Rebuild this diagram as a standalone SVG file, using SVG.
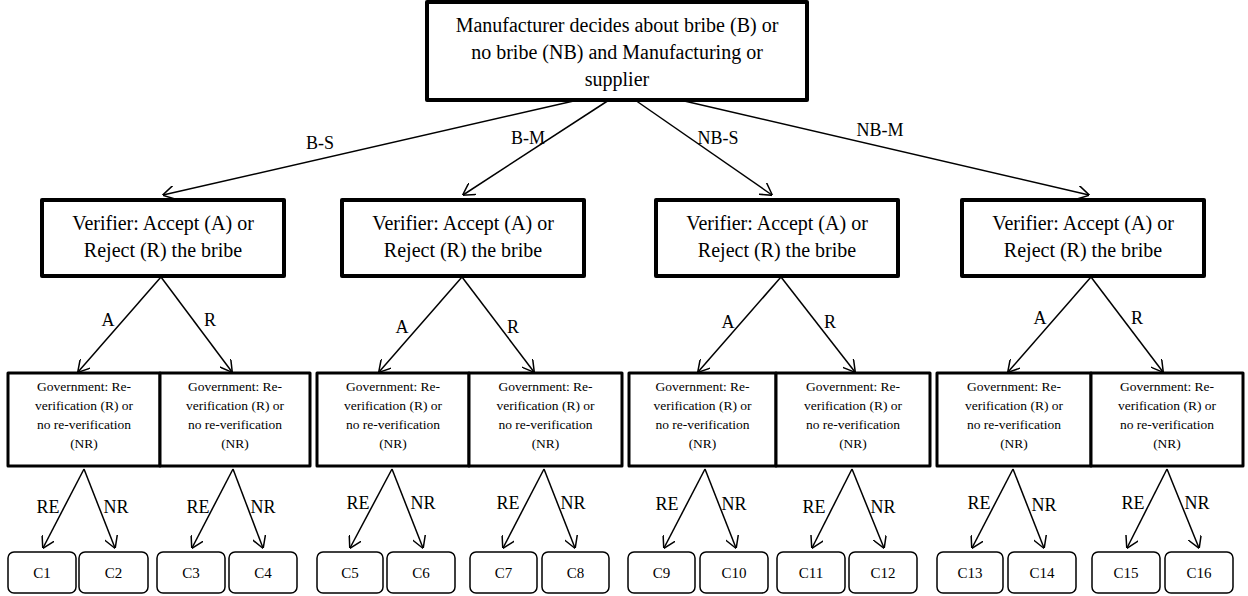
<svg xmlns="http://www.w3.org/2000/svg" width="1248" height="596" viewBox="0 0 1248 596" font-family="'Liberation Serif', 'DejaVu Serif', serif">
  <defs>
    <marker id="arrow" viewBox="0 0 12 14" refX="11.5" refY="7" markerWidth="12" markerHeight="14" markerUnits="userSpaceOnUse" orient="auto">
      <path d="M0,0 L12,7 L0,14" fill="none" stroke="#000" stroke-width="1.5"/>
    </marker>
    <style>
      text { font-family: 'Liberation Serif', 'DejaVu Serif', serif; fill: #000; text-anchor: middle; }
      .root { fill: #fff; stroke: #000; stroke-width: 4; stroke-linejoin: round; }
      .verifier { fill: #fff; stroke: #000; stroke-width: 4; stroke-linejoin: round; }
      .gov { fill: #fff; stroke: #000; stroke-width: 3; stroke-linejoin: round; }
      .leaf { fill: #fff; stroke: #000; stroke-width: 1.5; }
      .edge { stroke: #000; stroke-width: 1.5; fill: none; marker-end: url(#arrow); }
      .t20 { font-size: 20px; }
      .t18 { font-size: 18px; }
      .t13 { font-size: 13.5px; }
      .t15 { font-size: 15px; }
    </style>
  </defs>

  <rect width="1248" height="596" fill="#fff"/>

  <!-- Root decision -->
  <g id="manufacturer">
    <rect class="root" x="427" y="2" width="380" height="98"/>
    <text class="t20" x="617" y="32">Manufacturer decides about bribe (B) or</text>
    <text class="t20" x="617" y="59">no bribe (NB) and Manufacturing or</text>
    <text class="t20" x="617" y="86">supplier</text>
  </g>

  <!-- Verifier decisions -->
  <g id="verifier-bs">
    <rect class="verifier" x="42" y="200" width="242" height="76"/>
    <text class="t20" x="163" y="230">Verifier: Accept (A) or</text>
    <text class="t20" x="163" y="257">Reject (R) the bribe</text>
  </g>
  <g id="verifier-bm">
    <rect class="verifier" x="342" y="200" width="242" height="76"/>
    <text class="t20" x="463" y="230">Verifier: Accept (A) or</text>
    <text class="t20" x="463" y="257">Reject (R) the bribe</text>
  </g>
  <g id="verifier-nbs">
    <rect class="verifier" x="656" y="200" width="242" height="76"/>
    <text class="t20" x="777" y="230">Verifier: Accept (A) or</text>
    <text class="t20" x="777" y="257">Reject (R) the bribe</text>
  </g>
  <g id="verifier-nbm">
    <rect class="verifier" x="962" y="200" width="242" height="76"/>
    <text class="t20" x="1083" y="230">Verifier: Accept (A) or</text>
    <text class="t20" x="1083" y="257">Reject (R) the bribe</text>
  </g>

  <!-- Government decisions -->
  <g id="gov-1">
    <rect class="gov" x="8" y="373" width="152" height="93"/>
    <text class="t13" x="84" y="391">Government: Re-</text>
    <text class="t13" x="84" y="410">verification (R) or</text>
    <text class="t13" x="84" y="429">no re-verification</text>
    <text class="t13" x="84" y="448">(NR)</text>
  </g>
  <g id="gov-2">
    <rect class="gov" x="160" y="373" width="150" height="93"/>
    <text class="t13" x="235" y="391">Government: Re-</text>
    <text class="t13" x="235" y="410">verification (R) or</text>
    <text class="t13" x="235" y="429">no re-verification</text>
    <text class="t13" x="235" y="448">(NR)</text>
  </g>
  <g id="gov-3">
    <rect class="gov" x="317" y="373" width="152" height="93"/>
    <text class="t13" x="393" y="391">Government: Re-</text>
    <text class="t13" x="393" y="410">verification (R) or</text>
    <text class="t13" x="393" y="429">no re-verification</text>
    <text class="t13" x="393" y="448">(NR)</text>
  </g>
  <g id="gov-4">
    <rect class="gov" x="469" y="373" width="153" height="93"/>
    <text class="t13" x="545.5" y="391">Government: Re-</text>
    <text class="t13" x="545.5" y="410">verification (R) or</text>
    <text class="t13" x="545.5" y="429">no re-verification</text>
    <text class="t13" x="545.5" y="448">(NR)</text>
  </g>
  <g id="gov-5">
    <rect class="gov" x="629" y="373" width="147" height="93"/>
    <text class="t13" x="702.5" y="391">Government: Re-</text>
    <text class="t13" x="702.5" y="410">verification (R) or</text>
    <text class="t13" x="702.5" y="429">no re-verification</text>
    <text class="t13" x="702.5" y="448">(NR)</text>
  </g>
  <g id="gov-6">
    <rect class="gov" x="776" y="373" width="154" height="93"/>
    <text class="t13" x="853" y="391">Government: Re-</text>
    <text class="t13" x="853" y="410">verification (R) or</text>
    <text class="t13" x="853" y="429">no re-verification</text>
    <text class="t13" x="853" y="448">(NR)</text>
  </g>
  <g id="gov-7">
    <rect class="gov" x="937" y="373" width="154" height="93"/>
    <text class="t13" x="1014" y="391">Government: Re-</text>
    <text class="t13" x="1014" y="410">verification (R) or</text>
    <text class="t13" x="1014" y="429">no re-verification</text>
    <text class="t13" x="1014" y="448">(NR)</text>
  </g>
  <g id="gov-8">
    <rect class="gov" x="1091" y="373" width="152" height="93"/>
    <text class="t13" x="1167" y="391">Government: Re-</text>
    <text class="t13" x="1167" y="410">verification (R) or</text>
    <text class="t13" x="1167" y="429">no re-verification</text>
    <text class="t13" x="1167" y="448">(NR)</text>
  </g>

  <!-- Outcomes -->
  <g id="c1"><rect class="leaf" x="8" y="552" width="68" height="41" rx="6"/><text class="t15" x="42" y="578">C1</text></g>
  <g id="c2"><rect class="leaf" x="79" y="552" width="69" height="41" rx="6"/><text class="t15" x="113.5" y="578">C2</text></g>
  <g id="c3"><rect class="leaf" x="157" y="552" width="68" height="41" rx="6"/><text class="t15" x="191" y="578">C3</text></g>
  <g id="c4"><rect class="leaf" x="229" y="552" width="68" height="41" rx="6"/><text class="t15" x="263" y="578">C4</text></g>
  <g id="c5"><rect class="leaf" x="317" y="552" width="66" height="41" rx="6"/><text class="t15" x="350" y="578">C5</text></g>
  <g id="c6"><rect class="leaf" x="387" y="552" width="68" height="41" rx="6"/><text class="t15" x="421" y="578">C6</text></g>
  <g id="c7"><rect class="leaf" x="470" y="552" width="67" height="41" rx="6"/><text class="t15" x="503.5" y="578">C7</text></g>
  <g id="c8"><rect class="leaf" x="542" y="552" width="67" height="41" rx="6"/><text class="t15" x="575.5" y="578">C8</text></g>
  <g id="c9"><rect class="leaf" x="628" y="552" width="67" height="41" rx="6"/><text class="t15" x="661.5" y="578">C9</text></g>
  <g id="c10"><rect class="leaf" x="700" y="552" width="68" height="41" rx="6"/><text class="t15" x="734" y="578">C10</text></g>
  <g id="c11"><rect class="leaf" x="777" y="552" width="68" height="41" rx="6"/><text class="t15" x="811" y="578">C11</text></g>
  <g id="c12"><rect class="leaf" x="849" y="552" width="68" height="41" rx="6"/><text class="t15" x="883" y="578">C12</text></g>
  <g id="c13"><rect class="leaf" x="937" y="552" width="66" height="41" rx="6"/><text class="t15" x="970" y="578">C13</text></g>
  <g id="c14"><rect class="leaf" x="1008" y="552" width="68" height="41" rx="6"/><text class="t15" x="1042" y="578">C14</text></g>
  <g id="c15"><rect class="leaf" x="1092" y="552" width="68" height="41" rx="6"/><text class="t15" x="1126" y="578">C15</text></g>
  <g id="c16"><rect class="leaf" x="1165" y="552" width="68" height="41" rx="6"/><text class="t15" x="1199" y="578">C16</text></g>

  <!-- Connectors -->
  <g id="connectors">
    <!-- manufacturer choices -->
    <line class="edge" x1="578" y1="100" x2="163" y2="195"/>
    <line class="edge" x1="609" y1="100" x2="463" y2="195"/>
    <line class="edge" x1="635" y1="100" x2="772" y2="195"/>
    <line class="edge" x1="680" y1="100" x2="1089" y2="195"/>
    <text class="t18" x="320" y="149">B-S</text>
    <text class="t18" x="528" y="144">B-M</text>
    <text class="t18" x="718" y="144">NB-S</text>
    <text class="t18" x="880" y="136">NB-M</text>

    <!-- verifier choices -->
    <line class="edge" x1="161" y1="277" x2="78" y2="372"/>
    <line class="edge" x1="161" y1="277" x2="232" y2="372"/>
    <line class="edge" x1="462" y1="277" x2="379" y2="372"/>
    <line class="edge" x1="462" y1="277" x2="534" y2="372"/>
    <line class="edge" x1="781" y1="277" x2="698" y2="372"/>
    <line class="edge" x1="781" y1="277" x2="855" y2="372"/>
    <line class="edge" x1="1091" y1="277" x2="1008" y2="372"/>
    <line class="edge" x1="1091" y1="277" x2="1163" y2="372"/>
    <text class="t18" x="108" y="326">A</text>
    <text class="t18" x="210" y="326">R</text>
    <text class="t18" x="402" y="333">A</text>
    <text class="t18" x="513" y="333">R</text>
    <text class="t18" x="728" y="328">A</text>
    <text class="t18" x="830" y="328">R</text>
    <text class="t18" x="1040" y="324">A</text>
    <text class="t18" x="1137" y="324">R</text>

    <!-- government choices -->
    <line class="edge" x1="84" y1="469" x2="43" y2="548"/>
    <line class="edge" x1="84" y1="469" x2="115" y2="548"/>
    <line class="edge" x1="233" y1="469" x2="192" y2="548"/>
    <line class="edge" x1="233" y1="469" x2="263" y2="548"/>
    <line class="edge" x1="392" y1="469" x2="350" y2="548"/>
    <line class="edge" x1="392" y1="469" x2="423" y2="548"/>
    <line class="edge" x1="544" y1="469" x2="503" y2="548"/>
    <line class="edge" x1="544" y1="469" x2="575" y2="548"/>
    <line class="edge" x1="705" y1="469" x2="664" y2="548"/>
    <line class="edge" x1="705" y1="469" x2="736" y2="548"/>
    <line class="edge" x1="852" y1="469" x2="812" y2="548"/>
    <line class="edge" x1="852" y1="469" x2="884" y2="548"/>
    <line class="edge" x1="1013" y1="469" x2="972" y2="548"/>
    <line class="edge" x1="1013" y1="469" x2="1044" y2="548"/>
    <line class="edge" x1="1167" y1="469" x2="1127" y2="548"/>
    <line class="edge" x1="1167" y1="469" x2="1199" y2="548"/>
    <text class="t18" x="48" y="513">RE</text>
    <text class="t18" x="116" y="513">NR</text>
    <text class="t18" x="198" y="513">RE</text>
    <text class="t18" x="263" y="513">NR</text>
    <text class="t18" x="358" y="509">RE</text>
    <text class="t18" x="423" y="509">NR</text>
    <text class="t18" x="508" y="509">RE</text>
    <text class="t18" x="573" y="509">NR</text>
    <text class="t18" x="667" y="510">RE</text>
    <text class="t18" x="734" y="510">NR</text>
    <text class="t18" x="814" y="513">RE</text>
    <text class="t18" x="883" y="513">NR</text>
    <text class="t18" x="979" y="509">RE</text>
    <text class="t18" x="1044" y="511">NR</text>
    <text class="t18" x="1133" y="509">RE</text>
    <text class="t18" x="1197" y="509">NR</text>
  </g>
</svg>
